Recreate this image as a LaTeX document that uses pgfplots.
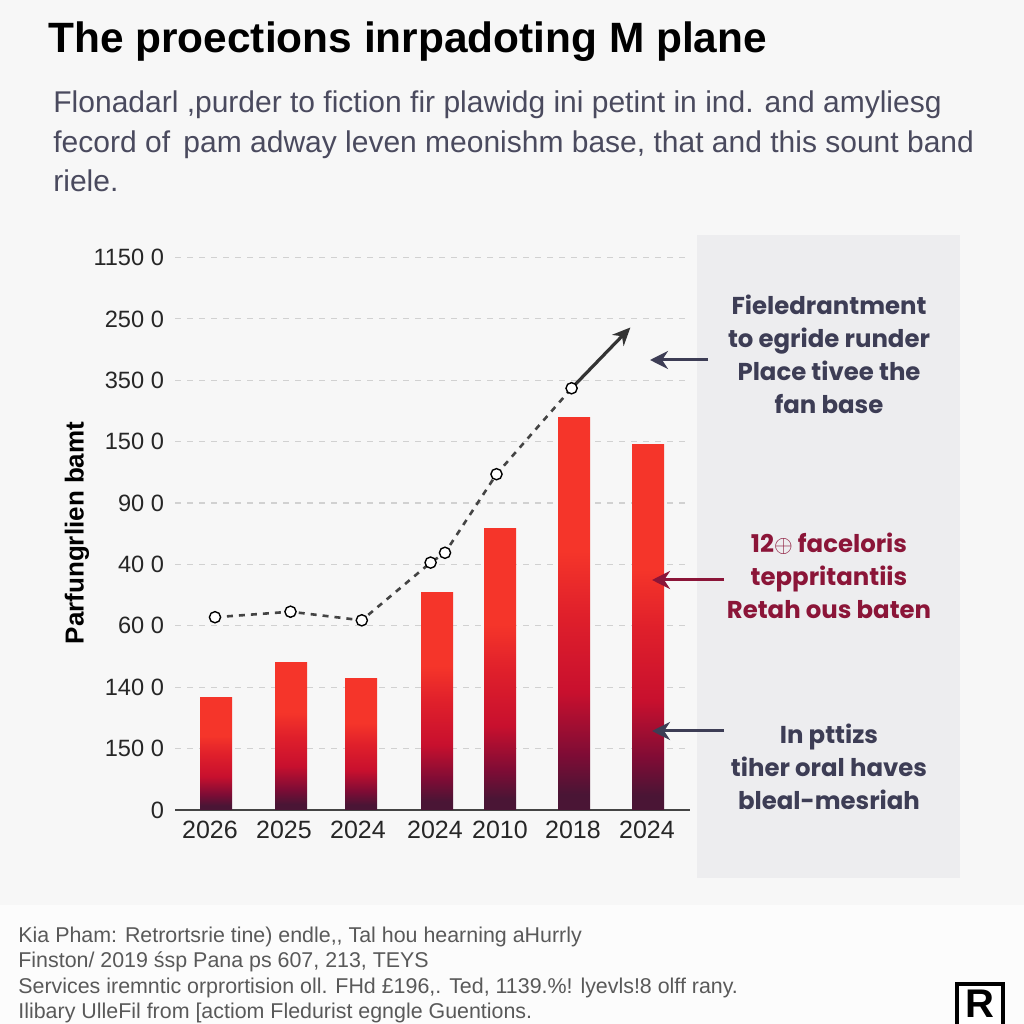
\documentclass[border=0pt]{standalone}
\usepackage{pgfplots}
\pgfplotsset{compat=1.18}
\usepackage{fontspec}
\setmainfont{Liberation Sans}
\newfontfamily\pop{Poppins}
\usetikzlibrary{arrows.meta}

\definecolor{bg}{HTML}{F7F7F7}
\definecolor{bgfoot}{HTML}{FCFCFC}
\definecolor{panel}{HTML}{EDEDEF}
\definecolor{slate}{HTML}{3D3D55}
\definecolor{subt}{HTML}{4A4A5E}
\definecolor{wine}{HTML}{8B1538}
\definecolor{bred}{HTML}{F5352A}
\definecolor{bmid}{HTML}{E0202B}
\definecolor{bcrim}{HTML}{C8102E}
\definecolor{bwine}{HTML}{7E0C35}
\definecolor{bdark}{HTML}{4A1535}
\definecolor{linegray}{HTML}{444444}

% colours run from the foot (25bp) to the top (75bp) of each bar
\pgfdeclareverticalshading{barshade}{100bp}{color(0bp)=(bdark); color(27bp)=(bdark); color(32bp)=(bwine); color(40bp)=(bcrim); color(50bp)=(bmid); color(58bp)=(bred); color(100bp)=(bred)}

\pgfplotsset{onebar/.style={ybar, bar width=32, bar shift=0pt, draw=none, shading=barshade}}

% line points, in grid steps (one step = one dashed line)
\pgfplotstableread{
x      y
215    3.14
290.5  3.23
361.8  3.09
430.6  4.03
445    4.19
496.5  5.47
571.6  6.87
}\trend

\begin{document}
\begin{tikzpicture}
\begin{scope}[x=0.5pt,y=-0.5pt,shift={(0pt,512pt)}]
\fill[bg] (0,0) rectangle (1024,905);
\fill[bgfoot] (0,905) rectangle (1024,1024);
\fill[panel] (697,235) rectangle (960,878);
\end{scope}

\begin{axis}[
    at={(87.5pt,107pt)}, anchor=south west,
    scale only axis, width=257.5pt, height=282.4pt,
    xmin=175, xmax=690, ymin=0, ymax=9.2,
    axis x line*=bottom, axis y line*=left,
    x axis line style={draw=linegray, line width=0.8pt, -},
    y axis line style={draw=none},
    major tick length=0pt,
    ytick={0,1,...,9},
    yticklabels={0,150 0,140 0,60 0,40 0,90 0,150 0,350 0,250 0,1150 0},
    xtick={210,284,358,435,500,573,647},
    xticklabels={2026,2025,2024,2024,2010,2018,2024},
    yticklabel style={font=\fontsize{11.8}{12}\selectfont, text=black!85, anchor=east, xshift=-2pt},
    xticklabel style={font=\fontsize{12.5}{13}\selectfont, text=black!85, yshift=-2pt},
    ymajorgrids, grid style={dashed, black!18, line width=0.6pt},
    /pgf/number format/assume math mode=true,
    clip=false,
]
\addplot[onebar] coordinates {(216,1.83)};
\addplot[onebar] coordinates {(291,2.41)};
\addplot[onebar] coordinates {(361,2.15)};
\addplot[onebar] coordinates {(437,3.55)};
\addplot[onebar] coordinates {(500,4.58)};
\addplot[onebar] coordinates {(574,6.39)};
\addplot[onebar] coordinates {(648,5.95)};
\addplot[linegray, dashed, line width=1.3pt, mark=*,
    mark options={solid, fill=white, draw=black, line width=0.7pt}, mark size=2.8pt]
    table[x=x,y=y]{\trend};
\addplot[black!80, line width=1.6pt, -{Stealth[length=9pt,width=8pt]}]
    coordinates {(571.6,6.87) (630.4,7.86)};
\end{axis}

\begin{scope}[x=0.5pt,y=-0.5pt,shift={(0pt,512pt)}]
\node[anchor=base west, inner sep=0pt, font=\fontsize{21.2}{24}\selectfont\bfseries] at (48,53) {The proections inrpadoting M plane};
\node[anchor=base west, inner sep=0pt, text=subt, font=\fontsize{15}{17}\selectfont] at (53,113) {Flonadarl ,purder to fiction fir plawidg ini petint in ind. and amyliesg};
\node[anchor=base west, inner sep=0pt, text=subt, font=\fontsize{15}{17}\selectfont] at (53,153) {fecord of \,pam adway leven meonishm base, that and this sount band};
\node[anchor=base west, inner sep=0pt, text=subt, font=\fontsize{15}{17}\selectfont] at (53,192) {riele.};

\node[rotate=90, inner sep=0pt, font=\fontsize{13}{14}\selectfont\bfseries] at (77,533) {Parfungrlien bamt};

\node[align=center, text=slate, font=\pop\bfseries\fontsize{12.2}{16.5}\selectfont] at (829,354) {Fieledrantment\\to egride runder\\Place tivee the\\fan base};
\node[align=center, text=wine, font=\pop\bfseries\fontsize{12.2}{16.5}\selectfont] at (829,576) {12$\oplus$ faceloris\\teppritantiis\\Retah ous baten};
\node[align=center, text=slate, font=\pop\bfseries\fontsize{12.2}{16.5}\selectfont] at (829,767) {In pttizs\\tiher oral haves\\bleal-mesriah};

\draw[slate, line width=1.5pt, -{Stealth[length=9pt,width=9pt]}] (708,360) -- (650,360);
\draw[wine, line width=1.5pt, -{Stealth[length=9pt,width=9pt]}] (724,580) -- (652,580);
\draw[slate, line width=1.5pt, -{Stealth[length=9pt,width=9pt]}] (724,731) -- (652,731);

\foreach \t [count=\i] in {Kia Pham: Retrortsrie tine) endle{,}{,} Tal hou hearning aHurrly,
    Finston/ 2019 \'{s}sp Pana ps 607{,} 213{,} TEYS,
    Services iremntic orprortision oll. FHd £196{,}. Ted{,} 1139.\%!  lyevls!8 olff rany.,
    Ilibary UlleFil from [actiom Fledurist egngle Guentions.}
  \node[anchor=base west, inner sep=0pt, text=black!65, font=\fontsize{10.7}{11}\selectfont] at (18,917+25.5*\i) {\t};

\begin{scope}
\clip (940,970) rectangle (1024,1024);
\fill[white] (955,982) rectangle (1005,1030);
\draw[black, line width=2.2pt] (957,984) rectangle (1003,1032);
\node[inner sep=0pt, font=\fontsize{20}{20}\selectfont\bfseries] at (980,1004) {R};
\end{scope}

\pgfresetboundingbox
\useasboundingbox (0,0) rectangle (1024,1024);
\end{scope}
\end{tikzpicture}
\end{document}
